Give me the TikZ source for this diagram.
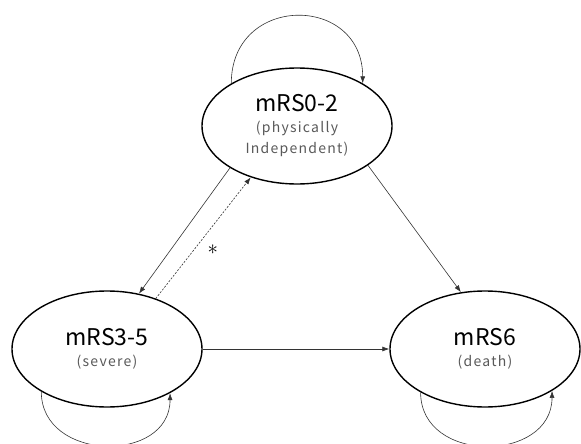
\documentclass[tikz,border=0pt]{standalone}
\usepackage{fontspec}
\setmainfont{Noto Sans CJK JP}
\newfontfamily\unterfont[LetterSpace=9]{Noto Sans CJK JP}
\usetikzlibrary{shapes.geometric,arrows.meta}
\tikzset{
	zustand/.style={ellipse, draw=black, line width=1.4pt, minimum width=190pt,
		minimum height=116pt, inner sep=0pt, align=center,
		font=\fontsize{14}{21}\selectfont},
	pfeil/.style={draw=black!80, line width=0.6pt,
		-{Latex[length=7pt,width=5pt]}},
	gestrichelt/.style={pfeil, dash pattern=on 2pt off 1.5pt}
}
\newcommand{\titel}[1]{{\fontsize{23}{21}\selectfont #1}}
\newcommand{\unter}[1]{{\unterfont\color{black!65}#1}}
\begin{document}
\begin{tikzpicture}[x=1pt, y=-1pt]
	\useasboundingbox (0,0) rectangle (581,444);
	% Zustaende
	\node[zustand] (oben) at (297,126)
		{\titel{mRS0-2}\\\unter{(physically}\\\unter{Independent)}};
	\node[zustand] (links) at (107,349) {\titel{mRS3-5}\\\unter{(severe)}};
	\node[zustand] (rechts) at (485,349) {\titel{mRS6}\\\unter{(death)}};
	% Uebergaenge
	\draw[pfeil] (oben.331) -- (rechts.113);
	\draw[pfeil] (oben.212) -- (links.60);
	\draw[gestrichelt] (links.46) -- node[pos=0.4, xshift=19pt]
		{\fontsize{22}{22}\selectfont$\ast$} (oben.228);
	\draw[pfeil] (links.east) -- (rechts.west);
	% Schleifen
	\draw[pfeil] (oben.147) to[out=90, in=90, looseness=1.75] (oben.33);
	\draw[pfeil] (links.213) to[out=-90, in=-90, looseness=1.4] (links.325);
	\draw[pfeil] (rechts.214) to[out=-90, in=-90, looseness=1.4] (rechts.328);
\end{tikzpicture}
\end{document}
